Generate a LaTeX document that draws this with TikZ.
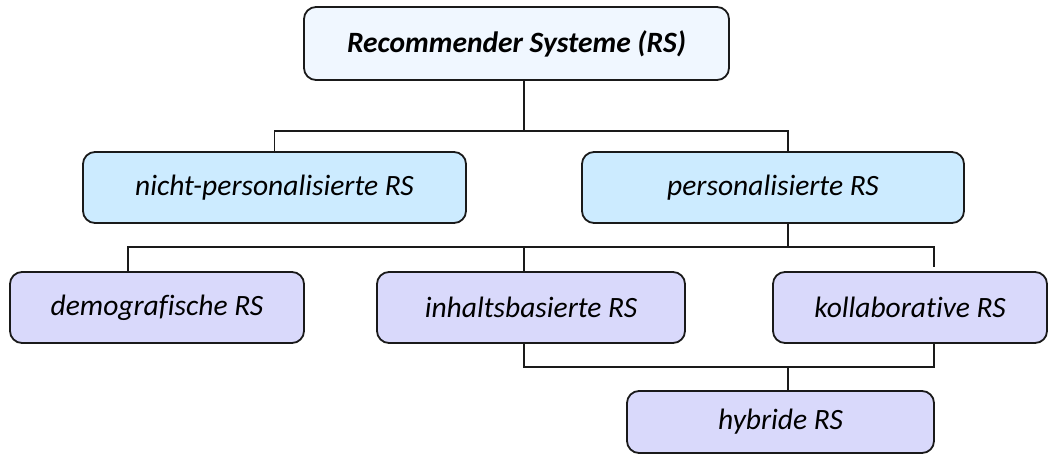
\documentclass[tikz,border=0pt]{standalone}
\usepackage{fontspec}
\setmainfont[Ligatures=NoCommon]{Carlito}
\definecolor{rootfill}{HTML}{F0F7FF}
\definecolor{midfill}{HTML}{CCEBFF}
\definecolor{lowfill}{HTML}{D9D9FB}
\definecolor{edge}{HTML}{1A1A1A}
\begin{document}
\begin{tikzpicture}[x=1pt,y=1pt,
  box/.style={draw=edge, line width=1.8pt, rounded corners=12pt, inner sep=0pt,
    font=\fontsize{29.5}{34}\selectfont\itshape, text=black},
  conn/.style={draw=edge, line width=1.8pt}]
\useasboundingbox (0,0) rectangle (1056,-455);
\node[box, fill=rootfill, minimum width=425pt, minimum height=73pt, font=\fontsize{29.5}{34}\selectfont\bfseries\itshape] (root) at (516.5,-43.5) {Recommender Systeme (RS)};
\node[box, fill=midfill, minimum width=383pt, minimum height=71pt] (np) at (274.5,-187.5) {nicht-personalisierte RS};
\node[box, fill=midfill, minimum width=382pt, minimum height=71pt] (p) at (773,-187.5) {personalisierte RS};
\node[box, fill=lowfill, minimum width=294pt, minimum height=71pt] (dem) at (157,-307.5) {demografische RS};
\node[box, fill=lowfill, minimum width=308pt, minimum height=71pt] (inh) at (531,-307.5) {inhaltsbasierte RS};
\node[box, fill=lowfill, minimum width=274pt, minimum height=71pt] (kol) at (910,-307.5) {kollaborative RS};
\node[box, fill=lowfill, minimum width=307pt, minimum height=62pt] (hyb) at (780.5,-422) {hybride RS};
\coordinate (j1) at (524,-131);
\coordinate (j1r) at (788,-131);
\coordinate (j2) at (788,-247);
\coordinate (j2l) at (128,-247);
\coordinate (j2m) at (524,-247);
\coordinate (j2r) at (934,-247);
\coordinate (kgap) at (934,-267);
\coordinate (j3) at (788,-367);
\draw[conn] (root.south -| j1) -- (j1);
\draw[conn] (np.north) |- (j1r) -- (p.north -| j1r);
\draw[conn] (p.south -| j2) -- (j2);
\draw[conn] (dem.north -| j2l) |- (j2r) -- (kgap);
\draw[conn] (j2m) -- (inh.north -| j2m);
\draw[conn] (inh.south -| j2m) |- (j3);
\draw[conn] (kol.south -| j2r) |- (j3);
\draw[conn] (j3) -- (hyb.north -| j3);
\end{tikzpicture}
\end{document}
